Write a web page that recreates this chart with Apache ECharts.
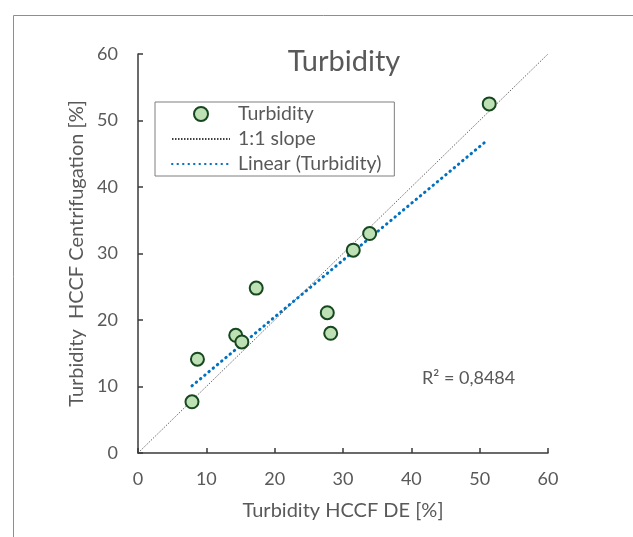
<!DOCTYPE html>
<html>
<head>
<meta charset="utf-8">
<script src="https://cdn.jsdelivr.net/npm/echarts@6/dist/echarts.min.js"></script>
<style>
html,body{margin:0;padding:0;background:#fff;}
#chart{width:633px;height:537px;}
</style>
</head>
<body>
<div id="chart"></div>
<script>
// Data
const deValues = [7.9, 8.7, 14.3, 15.2, 17.3, 27.7, 28.2, 31.5, 33.9, 51.4];
const centValues = [7.7, 14.1, 17.7, 16.7, 24.8, 21.1, 18.0, 30.5, 33.0, 52.5];
const slopeX = [0, 60];
const slopeY = [0, 60];
const trendX = [7.9, 51.2];
const trendY = [10.1, 47.1];
const axisTicks = [0, 10, 20, 30, 40, 50, 60];
const r2Label = 'R² = 0,8484';

const FONT = 'Lato, "Noto Sans", sans-serif';
const scatterData = deValues.map((x, i) => [x, centValues[i]]);
const slopeData = slopeX.map((x, i) => [x, slopeY[i]]);
const trendData = trendX.map((x, i) => [x, trendY[i]]);

const chart = echarts.init(document.getElementById('chart'), null, {renderer: 'canvas'});
const axisCommon = {
  min: axisTicks[0],
  max: axisTicks[axisTicks.length - 1],
  interval: axisTicks[1] - axisTicks[0],
  splitLine: {show: false},
  axisLine: {show: true, lineStyle: {color: '#3a3a3a', width: 1.5}},
  axisTick: {show: true, inside: true, length: 5, lineStyle: {color: '#3a3a3a', width: 1.5}},
  axisLabel: {color: '#595959', fontSize: 18, fontFamily: FONT},
  nameLocation: 'middle',
  nameTextStyle: {color: '#595959', fontSize: 20, fontFamily: FONT}
};
chart.setOption({
  animation: false,
  backgroundColor: '#fff',
  title: {
    text: 'Turbidity',
    left: 339, top: 42, textAlign: 'center',
    textStyle: {color: '#595959', fontSize: 29, fontWeight: 'normal', fontFamily: FONT}
  },
  grid: {left: 138, right: 85, top: 54, bottom: 84, containLabel: false},
  xAxis: Object.assign({}, axisCommon, {
    type: 'value',
    name: 'Turbidity HCCF DE [%]',
    nameGap: 48,
    axisLabel: Object.assign({}, axisCommon.axisLabel, {margin: 17})
  }),
  yAxis: Object.assign({}, axisCommon, {
    type: 'value',
    name: 'Turbidity  HCCF Centrifugation [%]',
    nameGap: 50,
    axisLabel: Object.assign({}, axisCommon.axisLabel, {margin: 20})
  }),
  legend: {
    orient: 'vertical',
    left: 155, top: 102,
    padding: [2, 13, 2, 16],
    itemGap: 5,
    itemWidth: 58,
    itemHeight: 14,
    borderColor: '#7f7f7f',
    borderWidth: 1,
    backgroundColor: '#fff',
    textStyle: {color: '#595959', fontSize: 19.5, fontFamily: FONT, padding: [0, 0, 0, 3]},
    data: [
      {name: 'Turbidity'},
      {name: '1:1 slope', itemStyle: {opacity: 0}},
      {name: 'Linear (Turbidity)', itemStyle: {opacity: 0}}
    ]
  },
  series: [
    {
      name: '1:1 slope', type: 'line', data: slopeData, symbol: 'none', z: 1,
      lineStyle: {color: '#404040', width: 0.8, type: [1.5, 1.5]}
    },
    {
      name: 'Linear (Turbidity)', type: 'line', data: trendData, symbol: 'none', z: 2,
      lineStyle: {color: '#0070C0', width: 3, type: [0.5, 5], cap: 'round'}
    },
    {
      name: 'Turbidity', type: 'scatter', data: scatterData, symbol: 'circle', symbolSize: 13, z: 3,
      itemStyle: {color: '#bde0b5', borderColor: '#17471f', borderWidth: 2, opacity: 1}
    }
  ],
  graphic: [
    {type: 'rect', left: 11, top: 13, shape: {width: 700, height: 600}, style: {fill: 'none', stroke: '#7396ad', lineWidth: 1}, silent: true},
    {type: 'text', left: 422, top: 369, style: {text: r2Label, fill: '#595959', fontSize: 18, fontFamily: FONT}}
  ]
});
</script>
</body>
</html>
